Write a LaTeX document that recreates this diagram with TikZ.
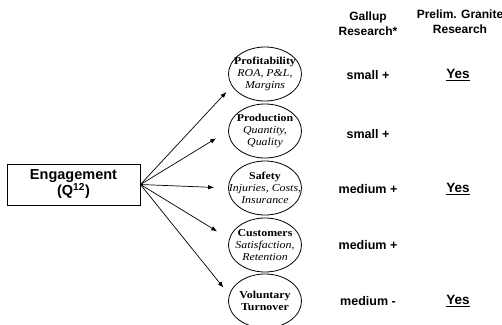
\documentclass[tikz,border=0pt]{standalone}
\usepackage{fontspec}
\setmainfont{Liberation Sans}
\newfontfamily\ellfont[FakeStretch=1.12]{Liberation Serif}
\usetikzlibrary{arrows.meta,shapes.geometric}

\newcommand{\midline}[1]{\makebox[0pt]{#1}}

\begin{document}
\begin{tikzpicture}[x=1pt, y=-1pt,
    outcome/.style={draw, ellipse, line width=0.8pt, minimum width=73pt, minimum height=54pt,
        inner sep=0pt, align=center, font=\ellfont\fontsize{10.6}{11.8}\selectfont},
    link/.style={-{Latex[length=6pt,width=4.5pt]}, line width=0.7pt},
    head/.style={align=center, font=\bfseries\fontsize{12}{15}\selectfont},
    cell/.style={font=\bfseries\fontsize{12.5}{14}\selectfont},
    yes/.style={font=\bfseries\fontsize{13.5}{15}\selectfont}]
        \useasboundingbox (0,0) rectangle (502,324);

        % Engagement box
        \node[draw, line width=0.9pt, minimum width=133pt, minimum height=41pt, align=center,
            font=\bfseries\fontsize{14.5}{16}\selectfont] (eng) at (73.5,184.5)
            {Engagement\\(Q\textsuperscript{12})};

        % Outcomes
        \node[outcome] (prof) at (265,74)
            {\midline{\textbf{Profitability}}\\\midline{\textit{ROA, P\&L,}}\\\midline{\textit{Margins}}};
        \node[outcome] (prod) at (265,131)
            {\midline{\textbf{Production}}\\\midline{\textit{Quantity,}}\\\midline{\textit{Quality}}};
        \node[outcome] (safe) at (265,188)
            {\midline{\textbf{Safety}}\\\midline{\textit{Injuries, Costs,}}\\\midline{\textit{Insurance}}};
        \node[outcome] (cust) at (265,245)
            {\midline{\textbf{Customers}}\\\midline{\textit{Satisfaction,}}\\\midline{\textit{Retention}}};
        \node[outcome] (turn) at (265,301)
            {\midline{\textbf{Voluntary}}\\\midline{\textbf{Turnover}}};

        % Links
        \draw[link, shorten >=8pt] (eng.east) -- (prof.200);
        \draw[link, shorten >=14pt] (eng.east) -- (prod.west);
        \draw[link, shorten >=14pt] (eng.east) -- (safe.west);
        \draw[link, shorten >=14pt] (eng.east) -- (cust.170);
        \draw[link, shorten >=9pt] (eng.east) -- (turn.170);

        % Column headings
        \node[head] (gallup) at (368,24) {Gallup\\Research*};
        \node[head] (granite) at (460,22) {Prelim. Granite\\Research};

        % Gallup findings
        \node[cell] (g1) at (368,75) {small +};
        \node[cell] (g2) at (368,134) {small +};
        \node[cell] (g3) at (368,189) {medium +};
        \node[cell] (g4) at (368,245) {medium +};
        \node[cell] (g5) at (368,301) {medium -};

        % Granite findings
        \node[yes] (p1) at (458,75) {\underline{Yes}};
        \node[yes] (p3) at (458,189) {\underline{Yes}};
        \node[yes] (p5) at (458,301) {\underline{Yes}};
\end{tikzpicture}
\end{document}
